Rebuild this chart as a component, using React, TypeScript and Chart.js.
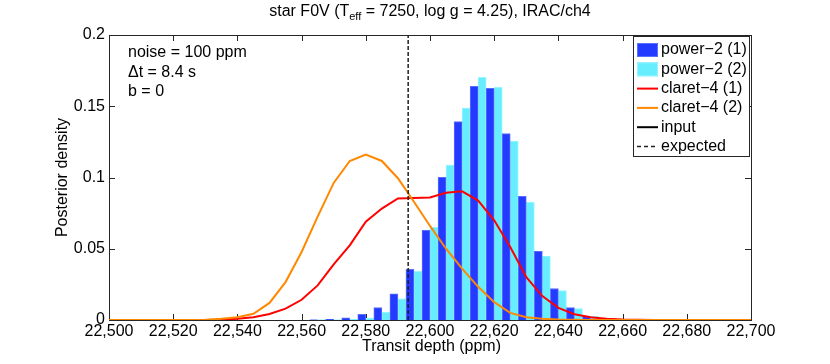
import React, { useEffect, useRef } from "react";
import { Chart, registerables } from "chart.js";

Chart.register(...registerables);

// ---- data ----
const binCenters = [22565, 22570, 22575, 22580, 22585, 22590, 22595, 22600, 22605, 22610, 22615, 22620, 22625, 22630, 22635, 22640, 22645, 22650, 22655];
const power2_1 = [0.0002, 0.0004, 0.0015, 0.0039, 0.0088, 0.0184, 0.0355, 0.0629, 0.1002, 0.1393, 0.1639, 0.1625, 0.1309, 0.0868, 0.0482, 0.0221, 0.0088, 0.0027, 0.0007];
const power2_2 = [0.0001, 0.0002, 0.0004, 0.0013, 0.0053, 0.0149, 0.0341, 0.0650, 0.1088, 0.1487, 0.1703, 0.1632, 0.1255, 0.0826, 0.0449, 0.0207, 0.0081, 0.0025, 0.0005];

const curveDepth = [22500, 22505, 22510, 22515, 22520, 22525, 22530, 22535, 22540, 22545, 22550, 22555, 22560, 22565, 22570, 22575, 22580, 22585, 22590, 22595, 22600, 22605, 22610, 22615, 22620, 22625, 22630, 22635, 22640, 22645, 22650, 22655, 22660, 22665, 22670, 22675, 22680, 22685, 22690, 22695, 22700];
const claret4_1 = [0, 0, 0, 0, 0, 0, 0, 0.0002, 0.0008, 0.002, 0.0042, 0.008, 0.0142, 0.0243, 0.039, 0.0524, 0.069, 0.0782, 0.0853, 0.0857, 0.086, 0.0893, 0.0903, 0.0838, 0.07, 0.0512, 0.03, 0.0168, 0.0085, 0.004, 0.0019, 0.0008, 0.0003, 0.0001, 0, 0, 0, 0, 0, 0, 0];
const claret4_2 = [0, 0, 0, 0, 0, 0, 0.0002, 0.0008, 0.002, 0.0044, 0.012, 0.0266, 0.0477, 0.0725, 0.0962, 0.1116, 0.1161, 0.1116, 0.0995, 0.083, 0.066, 0.05, 0.036, 0.0233, 0.0125, 0.005, 0.002, 0.0008, 0.0003, 0.0001, 0, 0, 0, 0, 0, 0, 0, 0, 0, 0, 0];

const expectedDepth = 22593.2;
const xRange = [22500, 22700];
const yRange = [0, 0.2];

const titleParts = ["star F0V (T", "eff", " = 7250, log g = 4.25), IRAC/ch4"];
const annotationLines = ["noise = 100 ppm", "\u0394t = 8.4 s", "b = 0"];
const legendLabels = ["power\u22122 (1)", "power\u22122 (2)", "claret\u22124 (1)", "claret\u22124 (2)", "input", "expected"];
const xLabel = "Transit depth (ppm)";
const yLabel = "Posterior density";

const FONT_FAMILY = '"Liberation Sans", Arial, Helvetica, sans-serif';
const BLUE = "rgb(35,58,255)";
const BLUE_EDGE = "rgb(90,110,255)";
const CYAN = "rgb(102,238,255)";
const CYAN_EDGE = "rgb(150,245,255)";
const RED = "#ff0000";
const ORANGE = "#ff8800";
const AXIS = "#262626";

const decorPlugin = {
  id: "decor",
  beforeDatasetsDraw(chart: any) {
    const { ctx, chartArea } = chart;
    const { left, right, top, bottom } = chartArea;
    ctx.save();
    ctx.strokeStyle = AXIS;
    ctx.lineWidth = 1;
    ctx.strokeRect(Math.round(left) + 0.5, Math.round(top) + 0.5, Math.round(right - left), Math.round(bottom - top));
    const xs = chart.scales.x;
    const ys = chart.scales.y;
    ctx.beginPath();
    xs.ticks.forEach((t: any) => {
      const px = Math.round(xs.getPixelForValue(t.value)) + 0.5;
      ctx.moveTo(px, bottom);
      ctx.lineTo(px, bottom - 6);
      ctx.moveTo(px, top);
      ctx.lineTo(px, top + 6);
    });
    ys.ticks.forEach((t: any) => {
      const py = Math.round(ys.getPixelForValue(t.value)) + 0.5;
      ctx.moveTo(left, py);
      ctx.lineTo(left + 6, py);
      ctx.moveTo(right, py);
      ctx.lineTo(right - 6, py);
    });
    ctx.stroke();
    ctx.restore();
  },
  afterDraw(chart: any) {
    const { ctx, chartArea } = chart;
    const { left, right, top, bottom } = chartArea;
    const cx = (left + right) / 2;
    ctx.save();
    ctx.fillStyle = "#000";
    // title
    const big = `16px ${FONT_FAMILY}`;
    const small = `11px ${FONT_FAMILY}`;
    ctx.font = big;
    const w0 = ctx.measureText(titleParts[0]).width;
    const w2 = ctx.measureText(titleParts[2]).width;
    ctx.font = small;
    const w1 = ctx.measureText(titleParts[1]).width;
    let tx = cx - (w0 + w1 + w2) / 2;
    ctx.textBaseline = "alphabetic";
    ctx.textAlign = "left";
    ctx.font = big;
    ctx.fillText(titleParts[0], tx, 16);
    tx += w0;
    ctx.font = small;
    ctx.fillText(titleParts[1], tx, 20);
    tx += w1;
    ctx.font = big;
    ctx.fillText(titleParts[2], tx, 16);

    // axis labels
    ctx.textAlign = "center";
    ctx.textBaseline = "alphabetic";
    ctx.fillText(xLabel, cx + 1.5, 351);
    ctx.textBaseline = "middle";
    ctx.save();
    ctx.translate(63, (top + bottom) / 2);
    ctx.rotate(-Math.PI / 2);
    ctx.fillText(yLabel, 0, 0);
    ctx.restore();

    // annotation
    ctx.textAlign = "left";
    annotationLines.forEach((s, i) => {
      ctx.fillText(s, 128, 53 + i * 19.5);
    });

    // legend
    const bx = 633.5, by = 36.5, bw = 116, bh = 120;
    ctx.fillStyle = "#fff";
    ctx.fillRect(bx, by, bw, bh);
    ctx.strokeStyle = AXIS;
    ctx.lineWidth = 1;
    ctx.strokeRect(bx, by, bw, bh);
    const sx0 = 637, sx1 = 658;
    legendLabels.forEach((lab, i) => {
      const cy = 50 + i * 19.3;
      if (i < 2) {
        ctx.fillStyle = i === 0 ? BLUE : CYAN;
        ctx.fillRect(sx0, cy - 7, sx1 - sx0, 14);
        ctx.strokeStyle = i === 0 ? BLUE_EDGE : CYAN_EDGE;
        ctx.strokeRect(sx0 + 0.5, cy - 6.5, sx1 - sx0 - 1, 13);
      } else {
        ctx.beginPath();
        ctx.strokeStyle = i === 2 ? RED : i === 3 ? ORANGE : "#000";
        ctx.lineWidth = 2;
        if (i === 5) {
          ctx.setLineDash([4, 3]);
          ctx.lineWidth = 1.5;
          ctx.strokeStyle = "#222";
        }
        ctx.moveTo(sx0, cy);
        ctx.lineTo(sx1, cy);
        ctx.stroke();
        ctx.setLineDash([]);
        ctx.lineWidth = 1;
      }
      ctx.fillStyle = "#000";
      ctx.fillText(lab, 661, cy);
    });
    ctx.restore();
  },
};

export default function App() {
  const ref = useRef<HTMLCanvasElement | null>(null);
  useEffect(() => {
    if (!ref.current) return;
    const font = { family: FONT_FAMILY, size: 16 };
    const chart = new Chart(ref.current, {
      type: "bar",
      data: {
        datasets: [
          {
            type: "line",
            label: legendLabels[5],
            data: [
              { x: expectedDepth, y: yRange[0] },
              { x: expectedDepth, y: yRange[1] },
            ],
            borderColor: "#222",
            borderWidth: 1.5,
            borderDash: [4, 2],
            pointRadius: 0,
            order: 0,
          },
          {
            type: "line",
            label: legendLabels[4],
            data: [],
            borderColor: "#000",
            borderWidth: 2,
            pointRadius: 0,
            order: 0,
          },
          {
            type: "line",
            label: legendLabels[3],
            data: curveDepth.map((x, i) => ({ x, y: claret4_2[i] })),
            borderColor: ORANGE,
            borderWidth: 2,
            pointRadius: 0,
            tension: 0,
            order: 1,
          },
          {
            type: "line",
            label: legendLabels[2],
            data: curveDepth.map((x, i) => ({ x, y: claret4_1[i] })),
            borderColor: RED,
            borderWidth: 2,
            pointRadius: 0,
            tension: 0,
            order: 1,
          },
          {
            type: "bar",
            label: legendLabels[0],
            data: binCenters.map((x, i) => ({ x, y: power2_1[i] })),
            backgroundColor: BLUE,
            borderColor: BLUE_EDGE,
            borderWidth: 1,
            barPercentage: 1,
            categoryPercentage: 1,
            order: 2,
          },
          {
            type: "bar",
            label: legendLabels[1],
            data: binCenters.map((x, i) => ({ x, y: power2_2[i] })),
            backgroundColor: CYAN,
            borderColor: CYAN_EDGE,
            borderWidth: 1,
            barPercentage: 1,
            categoryPercentage: 1,
            order: 2,
          },
        ],
      } as any,
      options: {
        responsive: false,
        animation: false,
        events: [],
        layout: { padding: { top: 35, right: 79, left: 0, bottom: 0 } },
        plugins: {
          legend: { display: false },
          tooltip: { enabled: false },
          title: { display: false },
        },
        scales: {
          x: {
            type: "linear",
            min: xRange[0],
            max: xRange[1],
            offset: false,
            grid: { display: false, drawTicks: false },
            border: { display: false },
            ticks: { stepSize: 20, font, color: "#000", padding: 2, maxRotation: 0, autoSkip: false },
            afterFit: (s: any) => {
              s.height = 44;
            },
          },
          y: {
            min: yRange[0],
            max: yRange[1],
            grid: { display: false, drawTicks: false },
            border: { display: false },
            ticks: {
              stepSize: 0.05,
              font,
              color: "#000",
              padding: 4,
              callback: (v: any) => String(parseFloat(Number(v).toFixed(2))),
            },
            afterFit: (s: any) => {
              s.width = 109;
            },
          },
        },
      } as any,
      plugins: [decorPlugin],
    });
    return () => chart.destroy();
  }, []);
  return (
    <div style={{ position: "absolute", left: 0, top: 0, width: 830, height: 364, background: "#fff" }}>
      <canvas ref={ref} width={830} height={364} style={{ display: "block" }} />
    </div>
  );
}
